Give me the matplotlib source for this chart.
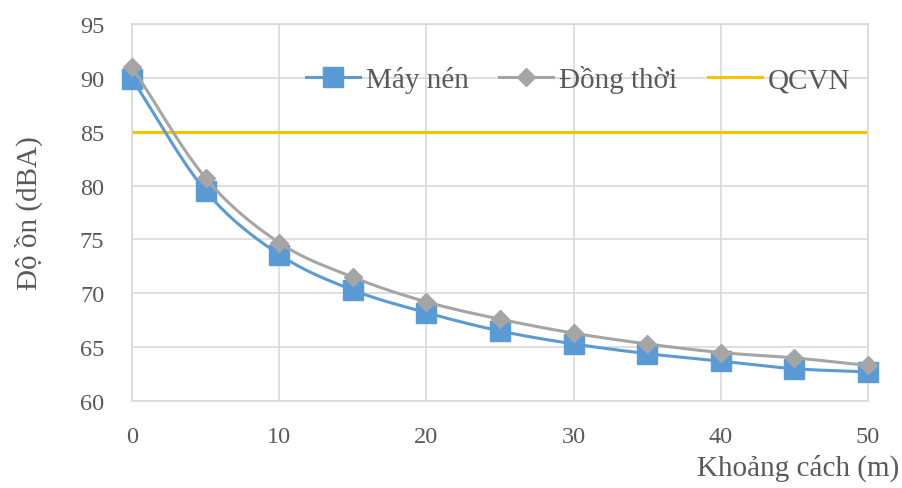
import numpy as np
import matplotlib.pyplot as plt

# số liệu
khoang_cach = [0, 5, 10, 15, 20, 25, 30, 35, 40, 45, 50]
may_nen = [89.9, 79.5, 73.6, 70.3, 68.2, 66.5, 65.3, 64.4, 63.7, 63.0, 62.7]
dong_thoi = [91.0, 80.7, 74.7, 71.5, 69.2, 67.6, 66.3, 65.3, 64.5, 64.0, 63.3]
qcvn = 85


def smooth(x, y, n=20):
	# duong cong kieu Catmull-Rom (giong "smoothed line" cua Excel)
	x = np.asarray(x, float)
	y = np.asarray(y, float)
	px = np.concatenate([[2 * x[0] - x[1]], x, [2 * x[-1] - x[-2]]])
	py = np.concatenate([[2 * y[0] - y[1]], y, [2 * y[-1] - y[-2]]])
	xs, ys = [], []
	t = np.linspace(0, 1, n, endpoint=False)
	for i in range(1, len(px) - 2):
		for arr, out in ((px, xs), (py, ys)):
			p0, p1, p2, p3 = arr[i - 1], arr[i], arr[i + 1], arr[i + 2]
			out.extend(0.5 * ((2 * p1) + (-p0 + p2) * t + (2 * p0 - 5 * p1 + 4 * p2 - p3) * t ** 2
				+ (-p0 + 3 * p1 - 3 * p2 + p3) * t ** 3))
	xs.append(x[-1])
	ys.append(y[-1])
	return np.array(xs), np.array(ys)


plt.rcParams['font.family'] = ['Liberation Serif', 'DejaVu Serif']
text_color = '#595959'

fig = plt.figure(figsize=(9.03, 4.89), dpi=100)
ax = fig.add_axes([0.1462, 0.1779, 0.815, 0.771])

blue = '#5b9bd5'
gray = '#a5a5a5'
gold = '#ffc000'

sx, sy = smooth(khoang_cach, may_nen)
ax.plot(sx, sy, color=blue, lw=2.2, zorder=3)
ax.plot(khoang_cach, may_nen, ls='none', marker='s', ms=15, color=blue, zorder=4, clip_on=False)
l1, = ax.plot([], [], color=blue, lw=2.2, marker='s', ms=15, label='Máy nén')

sx, sy = smooth(khoang_cach, dong_thoi)
ax.plot(sx, sy, color=gray, lw=2.2, zorder=5)
ax.plot(khoang_cach, dong_thoi, ls='none', marker='D', ms=9, color=gray, zorder=6, clip_on=False)
l2, = ax.plot([], [], color=gray, lw=2.2, marker='D', ms=9, label='Đồng thời')

l3 = ax.axhline(qcvn, color=gold, lw=2.2, zorder=2, label='QCVN')

ax.set_xlim(0, 50)
ax.set_ylim(60, 95)
ax.set_xticks(range(0, 51, 10))
ax.set_yticks(range(60, 96, 5))
ax.grid(True, color='#d9d9d9', lw=1.2)
ax.set_axisbelow(True)
for s in ax.spines.values():
	s.set_color('#d9d9d9')
	s.set_linewidth(1.2)
ax.tick_params(length=0, labelsize=17.5, colors=text_color)
ax.tick_params(axis='y', pad=20)
ax.tick_params(axis='x', pad=18)

ax.set_ylabel('Độ ồn (dBA)', fontsize=21, color=text_color)
ax.yaxis.set_label_coords(-0.121, 0.5)
ax.set_xlabel('Khoảng cách (m)', fontsize=21, color=text_color)
ax.xaxis.set_label_coords(1.042, -0.14)
ax.xaxis.label.set_horizontalalignment('right')

ax.legend(handles=[l1, l2, l3], loc='center', bbox_to_anchor=(0.606, 0.854), ncol=3,
	frameon=False, fontsize=21, labelcolor=text_color, handlelength=1.85,
	handletextpad=0.2, columnspacing=1.05)

fig.savefig('out.png', dpi=100)
